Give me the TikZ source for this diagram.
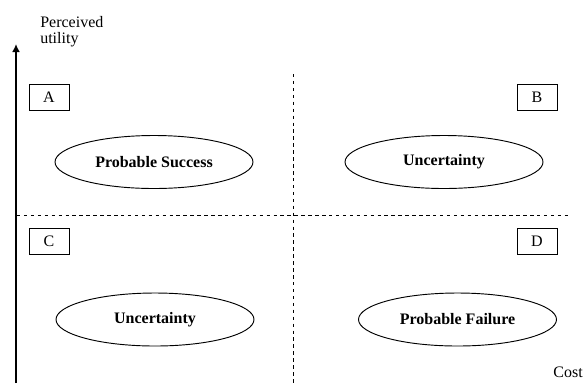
\documentclass[tikz,border=0pt]{standalone}
\usepackage{fontspec}
\setmainfont{Liberation Serif}
\usetikzlibrary{shapes.geometric,arrows.meta}
\tikzset{
  quadbox/.style={draw,line width=0.6pt,minimum width=30pt,minimum height=19.5pt,inner sep=0pt},
  zone/.style={draw,ellipse,line width=0.7pt,minimum width=148.5pt,minimum height=39.75pt,font=\fontsize{12}{12}\selectfont\bfseries},
  divide/.style={line width=0.6pt,dash pattern=on 2.6pt off 2.6pt}
}
\begin{document}
\begin{tikzpicture}[x=0.75pt,y=-0.75pt,font=\fontsize{12}{12}\selectfont]
\useasboundingbox (0,0) rectangle (584,383);
% axis
\coordinate (origin) at (16,383);
\coordinate (ytop) at (16,44);
\draw[line width=1.2pt,-{Latex[length=6pt,width=6pt]}] (origin) -- (ytop);
\node[anchor=north west,inner sep=0pt,align=left] (ylabel) at (40,16) {Perceived\\utility};
\node[anchor=base east,inner sep=0pt] (xlabel) at (583,377) {Cost};
% quadrant borders
\coordinate (hleft) at (17,215);
\coordinate (hright) at (570,215);
\coordinate (vtop) at (293,74);
\coordinate (vbot) at (293,383);
\draw[divide] (hleft) -- (hright);
\draw[divide] (vtop) -- (vbot);
% quadrant letters
\node[quadbox] (A) at (49,97) {A};
\node[quadbox] (B) at (537,97.5) {B};
\node[quadbox] (C) at (49,241) {C};
\node[quadbox] (D) at (537,241) {D};
% zones
\node[zone] (success) at (154,162) {Probable Success};
\node[zone] (uncertainB) at (444,162) {Uncertainty};
\node[zone] (uncertainC) at (155,319.5) {Uncertainty};
\node[zone] (failure) at (457.5,319.5) {Probable Failure};
\end{tikzpicture}
\end{document}
